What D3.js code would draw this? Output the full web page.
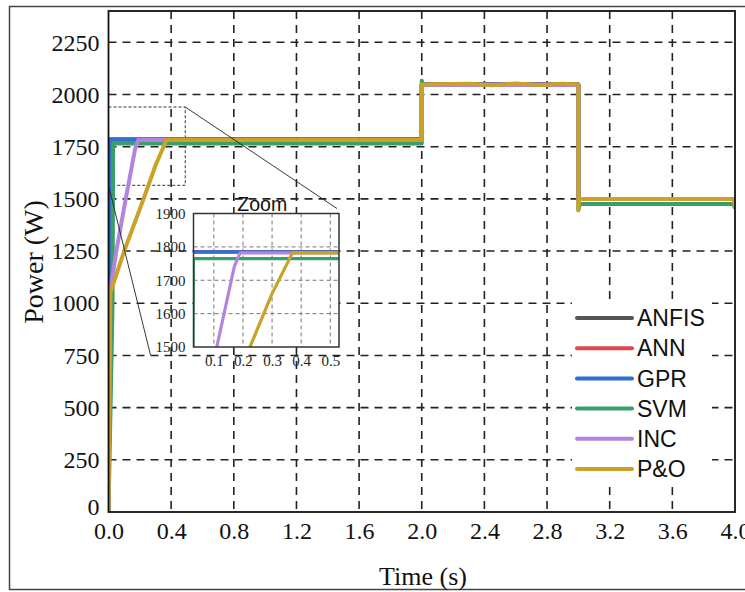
<!DOCTYPE html>
<html>
<head>
<meta charset="utf-8">
<script src="https://cdn.jsdelivr.net/npm/d3@7"></script>
<style>
  html, body { margin: 0; padding: 0; background: #fff; }
  svg { display: block; }
</style>
</head>
<body>
<svg id="chart" width="745" height="592"></svg>
<script>
// Tick values
const xTicks = [0.0, 0.4, 0.8, 1.2, 1.6, 2.0, 2.4, 2.8, 3.2, 3.6, 4.0];
const yTicks = [0, 250, 500, 750, 1000, 1250, 1500, 1750, 2000, 2250];
const insetXTicks = [0.1, 0.2, 0.3, 0.4, 0.5];
const insetYTicks = [1500, 1600, 1700, 1800, 1900];

// Controller names and colours
const seriesNames = ["ANFIS", "ANN", "GPR", "SVM", "INC", "P&O"];
const seriesColors = ["#555555", "#e0474c", "#2f6fd0", "#3a9e6a", "#b184e0", "#c9a227"];

// Power traces, [time (s), power (W)]
const anfis = [[0,0],[0.008,1785],[2.0,1785],[2.0,2048],[3.0,2048],[3.0,1500],[4.0,1500]];
const ann   = [[0,0],[0.008,1785],[2.0,1785],[2.0,2048],[3.0,2048],[3.0,1500],[4.0,1500]];
const gpr   = [[0,0],[0.008,1740],[0.012,1785],[2.0,1785],[2.0,2048],[3.0,2048],[3.0,1500],[4.0,1500]];
const svm   = [[0,0],[0.026,1000],[0.03,1765],[2.0,1765],[2.0,2066],[2.01,2045],[3.0,2045],[3.0,1446],[3.01,1475],[3.99,1475],[4.0,1455]];
const inc   = [[0,0],[0.01,1050],[0.05,1250],[0.11,1500],[0.17,1740],[0.19,1782],[2.0,1782],[2.0,2045],[3.0,2045],[3.0,1500],[4.0,1500]];
const pando = [[0,0],[0.012,1050],[0.1,1250],[0.224,1500],[0.3,1660],[0.37,1782],[2.0,1782],[2.0,2048],
               [2.3,2052],[2.45,2044],[2.6,2053],[2.75,2046],[2.9,2052],[3.0,2048],[3.0,1446],[3.005,1500],[3.99,1500],[4.0,1460]];
const seriesData = [anfis, ann, gpr, svm, inc, pando];

// Region of the main plot that the inset enlarges
const zoomT = [0, 0.49];
const zoomP = [1565, 1940];
// Inset axis ranges
const insetTDomain = [0.03, 0.53];
const insetPDomain = [1500, 1900];

const svg = d3.select("#chart");
const serif = "'Liberation Serif', 'Times New Roman', serif";
const sans = "'Liberation Sans', Arial, sans-serif";

// outer frame
svg.append("rect").attr("x", 9.5).attr("y", 6.5).attr("width", 760).attr("height", 583)
  .attr("fill", "none").attr("stroke", "#444").attr("stroke-width", 1.5);

const m = { left: 108.5, right: 735, top: 11, bottom: 512 };
const x = d3.scaleLinear().domain([0, 4]).range([m.left, m.right]);
const y = d3.scaleLinear().domain([0, 2400]).range([m.bottom, m.top]);

svg.append("defs").append("clipPath").attr("id", "plotClip")
  .append("rect").attr("x", m.left).attr("y", m.top)
  .attr("width", m.right - m.left).attr("height", m.bottom - m.top);

// grid
const grid = svg.append("g");
grid.selectAll("line.vx").data(xTicks.filter(t => t > 0 && t < 4)).join("line")
  .attr("x1", d => x(d)).attr("x2", d => x(d)).attr("y1", m.top).attr("y2", m.bottom)
  .attr("stroke", "#222").attr("stroke-width", 1.6).attr("stroke-dasharray", "8,6");
grid.selectAll("line.hy").data(yTicks.filter(v => v > 0)).join("line")
  .attr("x1", m.left).attr("x2", m.right).attr("y1", d => y(d)).attr("y2", d => y(d))
  .attr("stroke", "#222").attr("stroke-width", 1.6).attr("stroke-dasharray", "8,6");

// axes
const xAxis = d3.axisBottom(x).tickValues(xTicks).tickFormat(d3.format(".1f")).tickSize(0).tickPadding(10);
const yAxis = d3.axisLeft(y).tickValues(yTicks).tickFormat(d3.format("d")).tickSize(0).tickPadding(9);
const gx = svg.append("g").attr("transform", `translate(0,${m.bottom})`).call(xAxis);
const gy = svg.append("g").attr("transform", `translate(${m.left},0)`).call(yAxis);
[gx, gy].forEach(g => {
  g.select(".domain").remove();
  g.selectAll("text").attr("font-family", serif).attr("font-size", 24).attr("fill", "#111");
});
gy.selectAll(".tick").filter(d => d === 0).select("text").attr("dy", "0.1em");

// zoom-region marker
svg.append("rect")
  .attr("x", x(zoomT[0])).attr("y", y(zoomP[1]))
  .attr("width", x(zoomT[1]) - x(zoomT[0])).attr("height", y(zoomP[0]) - y(zoomP[1]))
  .attr("fill", "none").attr("stroke", "#333").attr("stroke-width", 1).attr("stroke-dasharray", "3,2");

// traces
const line = d3.line().x(d => x(d[0])).y(d => y(d[1]));
const traces = svg.append("g").attr("clip-path", "url(#plotClip)");
seriesData.forEach((s, i) => {
  traces.append("path").datum(s).attr("d", line)
    .attr("fill", "none").attr("stroke", seriesColors[i]).attr("stroke-width", 4)
    .attr("stroke-linejoin", "round");
});

// plot border
svg.append("rect").attr("x", m.left).attr("y", m.top)
  .attr("width", m.right - m.left).attr("height", m.bottom - m.top)
  .attr("fill", "none").attr("stroke", "#111").attr("stroke-width", 1.8);

// axis titles
svg.append("text").attr("x", 423).attr("y", 585)
  .attr("text-anchor", "middle").attr("font-family", serif).attr("font-size", 26).attr("fill", "#111")
  .text("Time (s)");
svg.append("text").attr("transform", "translate(43,262) rotate(-90)")
  .attr("text-anchor", "middle").attr("font-family", serif).attr("font-size", 28).attr("fill", "#111")
  .text("Power (W)");

// inset
const im = { left: 193.5, right: 339, top: 213.5, bottom: 347 };
const ix = d3.scaleLinear().domain(insetTDomain).range([im.left, im.right]);
const iy = d3.scaleLinear().domain(insetPDomain).range([im.bottom, im.top]);

// leader lines from marker to inset
svg.append("line").attr("x1", x(zoomT[1])).attr("y1", y(zoomP[1])).attr("x2", im.right - 2).attr("y2", im.top - 5)
  .attr("stroke", "#222").attr("stroke-width", 0.9);
svg.append("line").attr("x1", x(zoomT[0])).attr("y1", y(zoomP[0])).attr("x2", im.left - 43).attr("y2", im.bottom + 8)
  .attr("stroke", "#222").attr("stroke-width", 0.9);

svg.append("rect").attr("x", im.left).attr("y", im.top)
  .attr("width", im.right - im.left).attr("height", im.bottom - im.top).attr("fill", "#fff");

svg.select("defs").append("clipPath").attr("id", "insetClip")
  .append("rect").attr("x", im.left).attr("y", im.top)
  .attr("width", im.right - im.left).attr("height", im.bottom - im.top);

const ig = svg.append("g");
ig.selectAll("line.ivx").data(insetXTicks).join("line")
  .attr("x1", d => ix(d)).attr("x2", d => ix(d)).attr("y1", im.top).attr("y2", im.bottom)
  .attr("stroke", "#777").attr("stroke-width", 1).attr("stroke-dasharray", "4,3");
ig.selectAll("line.ihy").data(insetYTicks.slice(1, -1)).join("line")
  .attr("x1", im.left).attr("x2", im.right).attr("y1", d => iy(d)).attr("y2", d => iy(d))
  .attr("stroke", "#777").attr("stroke-width", 1).attr("stroke-dasharray", "4,3");

const iline = d3.line().x(d => ix(d[0])).y(d => iy(d[1]));
const itraces = svg.append("g").attr("clip-path", "url(#insetClip)");
seriesData.forEach((s, i) => {
  itraces.append("path").datum(s).attr("d", iline)
    .attr("fill", "none").attr("stroke", seriesColors[i]).attr("stroke-width", 3.2)
    .attr("stroke-linejoin", "round");
});

svg.append("rect").attr("x", im.left).attr("y", im.top)
  .attr("width", im.right - im.left).attr("height", im.bottom - im.top)
  .attr("fill", "none").attr("stroke", "#333").attr("stroke-width", 1.5);

const igx = svg.append("g").attr("transform", `translate(0,${im.bottom})`)
  .call(d3.axisBottom(ix).tickValues(insetXTicks).tickFormat(d3.format(".1f")).tickSize(0).tickPadding(8));
const igy = svg.append("g").attr("transform", `translate(${im.left},0)`)
  .call(d3.axisLeft(iy).tickValues(insetYTicks).tickFormat(d3.format("d")).tickSize(0).tickPadding(8));
[igx, igy].forEach(g => {
  g.select(".domain").remove();
  g.selectAll("text").attr("font-family", serif).attr("font-size", 15).attr("fill", "#222");
});

svg.append("text").attr("x", (im.left + im.right) / 2 - 4).attr("y", im.top - 3)
  .attr("text-anchor", "middle").attr("font-family", sans).attr("font-size", 19.5).attr("fill", "#111")
  .text("Zoom");

// legend
const leg = svg.append("g");
leg.append("rect").attr("x", 572).attr("y", 299).attr("width", 140).attr("height", 188).attr("fill", "#fff");
seriesNames.forEach((name, i) => {
  const yy = 318 + i * 30.2;
  leg.append("line").attr("x1", 577).attr("x2", 632).attr("y1", yy).attr("y2", yy)
    .attr("stroke", seriesColors[i]).attr("stroke-width", 4).attr("stroke-linecap", "round");
  leg.append("text").attr("x", 637).attr("y", yy).attr("dy", "0.36em")
    .attr("font-family", sans).attr("font-size", 23).attr("fill", "#111").text(name);
});
</script>
</body>
</html>
